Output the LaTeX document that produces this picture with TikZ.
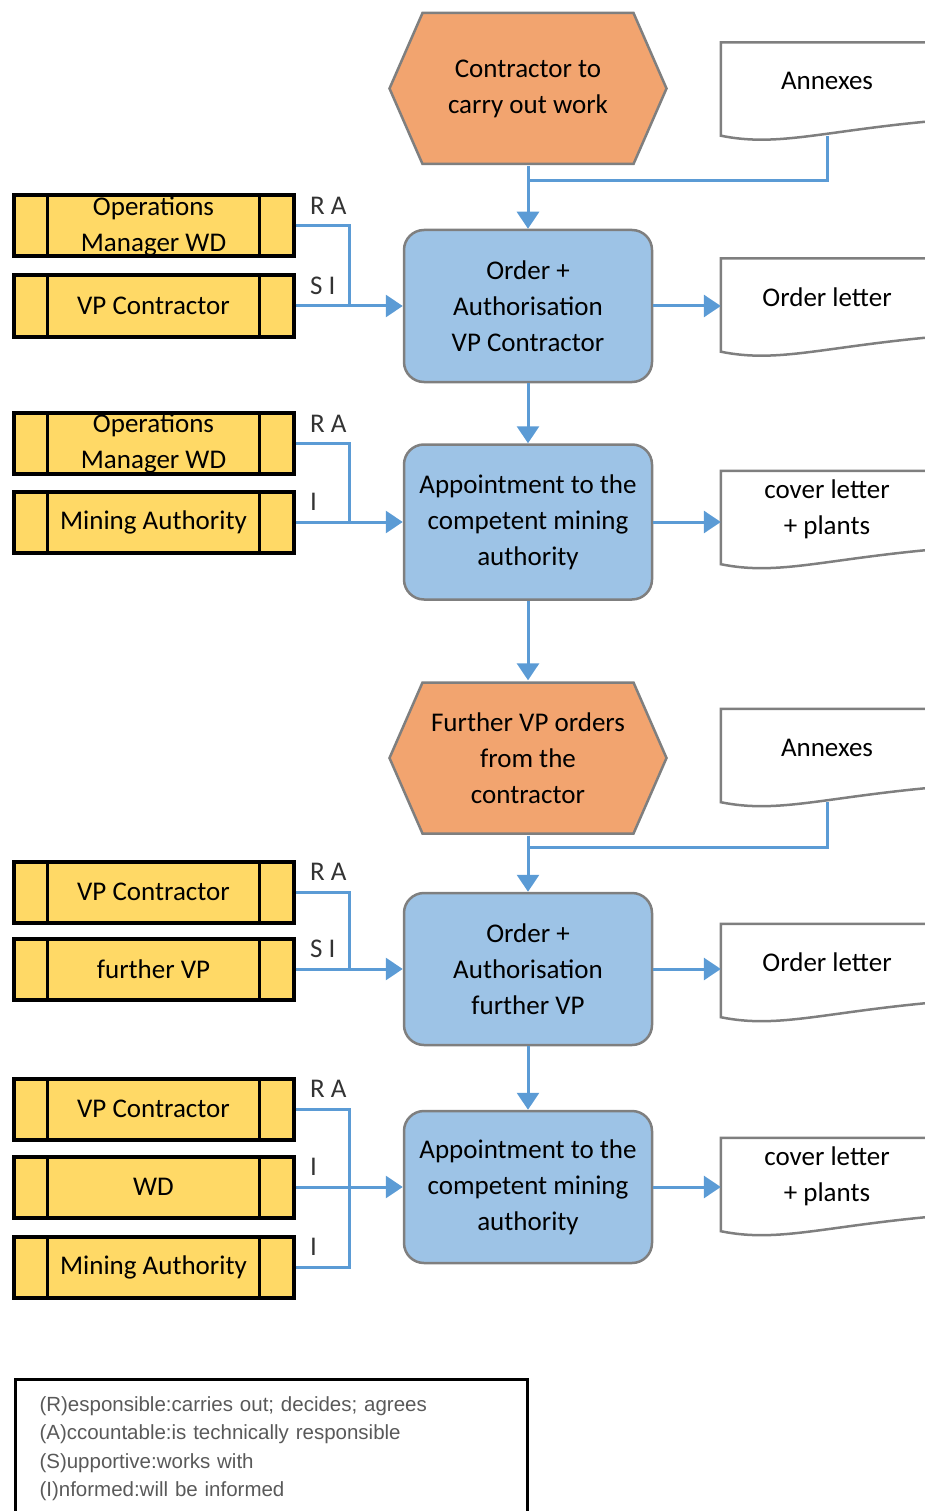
\documentclass[tikz,border=0pt]{standalone}
\usepackage{fontspec}
\setmainfont{Carlito}
\newfontfamily\keyfont{Liberation Sans}
\usepackage{xcolor}
\usepackage{tikz}
\usetikzlibrary{
  arrows.meta
}

\definecolor{hexorange}{HTML}{F2A46F}
\definecolor{taskblue}{HTML}{9DC3E6}
\definecolor{roleyellow}{HTML}{FFD966}
\definecolor{flowblue}{HTML}{5B9BD5}
\definecolor{edgegrey}{HTML}{7F7F7F}

\begin{document}
\begin{tikzpicture}[
          x=1pt,y=-1pt,
          every node/.style={
              font={\fontsize{27}{36}\selectfont},
              align=center
            },hexbox/.style={
              minimum width=281pt,minimum height=155pt,
              inner sep=0pt,fill=white,
              path picture={
                  \draw[line width=2.5pt,draw=edgegrey,fill=hexorange]
                  ([xshift=2pt]path picture bounding box.west)
                  -- ([xshift=35pt,yshift=-2pt]path picture bounding box.north west)
                  -- ([xshift=-35pt,yshift=-2pt]path picture bounding box.north east)
                  -- ([xshift=-2pt]path picture bounding box.east)
                  -- ([xshift=-35pt,yshift=2pt]path picture bounding box.south east)
                  -- ([xshift=35pt,yshift=2pt]path picture bounding box.south west)
                  -- cycle;
                }
            },taskbox/.style={
              draw=edgegrey,line width=2.5pt,fill=taskblue,
              rounded corners=20pt,
              minimum width=248pt,minimum height=152pt
            },rolebox/.style={
              draw=black,line width=4pt,fill=roleyellow,
              minimum width=280pt,minimum height=61pt,inner sep=0pt,
              path picture={
                  \draw[line width=2.5pt]
                  ([xshift=34pt]path picture bounding box.north west)
                  -- ([xshift=34pt]path picture bounding box.south west);
                  \draw[line width=2.5pt]
                  ([xshift=-34pt]path picture bounding box.north east)
                  -- ([xshift=-34pt]path picture bounding box.south east);
                }
            },docbox/.style={
              minimum width=212pt,minimum height=93pt,inner sep=0pt
            },doctext/.style={
              yshift=8pt
            },docline/.style={
              draw=edgegrey,line width=2.5pt
            },raci/.style={
              anchor=south west,xshift=11pt,yshift=10pt,
              inner xsep=2pt,inner ysep=0pt,text=black!80
            },keybox/.style={
              anchor=north west,draw=black,line width=3pt,
              text width=464pt,align=left,
              inner xsep=24pt,inner ysep=17pt,
              font={\keyfont\fontsize{20.5}{28.5}\selectfont},
              text=black!65
            },line/.style={
              draw=flowblue,line width=3pt
            },flowarrow/.style={
              line,-{Triangle[length=17pt,width=22pt]}
            }
        ]
        \useasboundingbox (0,0) rectangle (925,1511);

        % events
        \node[hexbox] (hexA) at (528,88.5) {Contractor to\\carry out work};
        \node[hexbox] (hexB) at (528,758) {Further VP orders\\from the\\contractor};

        % tasks
        \node[taskbox] (taskA) at (528,306) {Order +\\Authorisation\\VP Contractor};
        \node[taskbox,minimum height=155pt] (taskB) at (528,522) {Appointment to the\\competent mining\\authority};
        \node[taskbox] (taskC) at (528,969) {Order +\\Authorisation\\further VP};
        \node[taskbox] (taskD) at (528,1187) {Appointment to the\\competent mining\\authority};

        % roles
        \node[rolebox] (roleA) at (153.5,226) {Operations\\Manager WD};
        \node[rolebox] (roleB) at (153.5,306) {VP Contractor};
        \node[rolebox] (roleC) at (153.5,443.5) {Operations\\Manager WD};
        \node[rolebox] (roleD) at (153.5,522) {Mining Authority};
        \node[rolebox] (roleE) at (153.5,892) {VP Contractor};
        \node[rolebox] (roleF) at (153.5,969) {further VP};
        \node[rolebox] (roleG) at (153.5,1109) {VP Contractor};
        \node[rolebox] (roleH) at (153.5,1187) {WD};
        \node[rolebox] (roleI) at (153.5,1267) {Mining Authority};

        % documents
        \node[docbox,label={[doctext]center:Annexes}] (annexA) at (827,89) {};
        \node[docbox,label={[doctext]center:Order letter}] (orderA) at (827,305) {};
        \node[docbox,label={[doctext]center:{cover letter\\+ plants}}] (coverA) at (827,517.5) {};
        \node[docbox,label={[doctext]center:Annexes}] (annexB) at (827,755.5) {};
        \node[docbox,label={[doctext]center:Order letter}] (orderB) at (827,970.5) {};
        \node[docbox,label={[doctext]center:{cover letter\\+ plants}}] (coverB) at (827,1184.5) {};
        \foreach \d in {annexA,orderA,coverA,annexB,orderB,coverB}
        \draw[docline] ([xshift=15pt]\d.north east) -- (\d.north west) -- (\d.south west)
        .. controls +(59,12) and +(-123,10) .. ([xshift=15pt,yshift=16pt]\d.south east);

        % main flow
        \coordinate (joinA) at (528,181);
        \coordinate (joinB) at (528,847);
        \draw[line] (annexA.south) |- (joinA);
        \draw[flowarrow] (hexA.south) -- (taskA.north);
        \draw[flowarrow] (taskA.south) -- (taskB.north);
        \draw[flowarrow] (taskB.south) -- (hexB.north);
        \draw[line] (annexB.south) |- (joinB);
        \draw[flowarrow] (hexB.south) -- (taskC.north);
        \draw[flowarrow] (taskC.south) -- (taskD.north);

        % outputs
        \draw[flowarrow] (taskA.east) -- (taskA.east -| orderA.west);
        \draw[flowarrow] (taskB.east) -- (taskB.east -| coverA.west);
        \draw[flowarrow] (taskC.east) -- (taskC.east -| orderB.west);
        \draw[flowarrow] (taskD.east) -- (taskD.east -| coverB.west);

        % role links
        \coordinate (busA) at (349,306);
        \coordinate (busB) at (349,522);
        \coordinate (busC) at (349,969);
        \coordinate (busD) at (349,1187);
        \draw[line] (roleA.east) node[raci] {R A} -| (busA);
        \draw[flowarrow] (roleB.east) node[raci] {S I} -- (taskA.west);
        \draw[line] (roleC.east) node[raci] {R A} -| (busB);
        \draw[flowarrow] (roleD.east) node[raci] {I} -- (taskB.west);
        \draw[line] (roleE.east) node[raci] {R A} -| (busC);
        \draw[flowarrow] (roleF.east) node[raci] {S I} -- (taskC.west);
        \draw[line] (roleG.east) node[raci] {R A} -| (busD);
        \draw[line] (roleI.east) node[raci] {I} -| (busD);
        \draw[flowarrow] (roleH.east) node[raci] {I} -- (taskD.west);

        % legend
        \node[keybox] (raciKey) at (14,1378) {(R)esponsible:carries out; decides; agrees\\(A)ccountable:is technically responsible\\(S)upportive:works with\\(I)nformed:will be informed};

      \end{tikzpicture}
\end{document}
